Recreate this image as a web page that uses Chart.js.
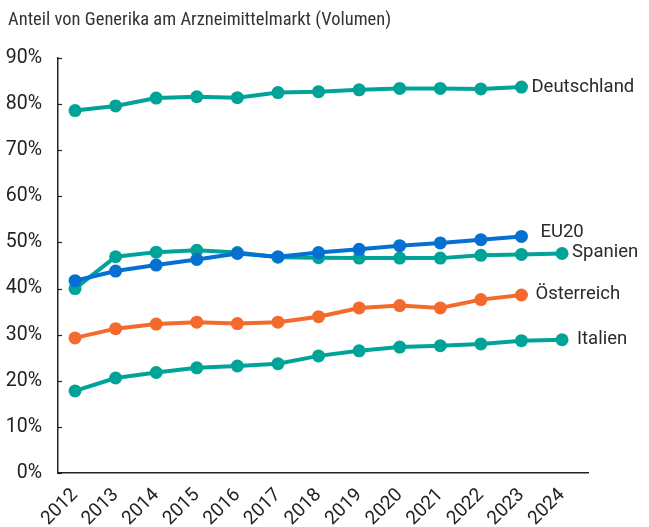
<!DOCTYPE html>
<html lang="de">
<head>
<meta charset="utf-8">
<title>Generika Anteil</title>
<script src="https://cdn.jsdelivr.net/npm/chart.js@4/dist/chart.umd.min.js"></script>
<style>
  html, body { margin: 0; padding: 0; background: #fff; }
  #wrap { width: 649px; height: 527px; position: relative; }
</style>
</head>
<body>
<div id="wrap"><canvas id="generika"></canvas></div>
<script>
// Anteil in % (Volumen), Jahre 2012-2024
const years = [2012, 2013, 2014, 2015, 2016, 2017, 2018, 2019, 2020, 2021, 2022, 2023, 2024];
const deutschland = [78.6, 79.6, 81.3, 81.6, 81.4, 82.5, 82.7, 83.1, 83.4, 83.4, 83.3, 83.7];
const eu20 = [41.7, 43.8, 45.1, 46.3, 47.6, 46.9, 47.8, 48.5, 49.3, 49.9, 50.6, 51.3];
const spanien = [40.0, 46.9, 47.9, 48.3, 47.8, 46.8, 46.7, 46.6, 46.6, 46.6, 47.2, 47.4, 47.6];
const oesterreich = [29.3, 31.3, 32.3, 32.7, 32.4, 32.7, 33.9, 35.8, 36.3, 35.8, 37.6, 38.6];
const italien = [17.8, 20.6, 21.8, 22.8, 23.2, 23.7, 25.4, 26.5, 27.3, 27.6, 28.0, 28.7, 28.9];
const yTicks = [0, 10, 20, 30, 40, 50, 60, 70, 80, 90];

const TEAL = "#00a398";
const BLUE = "#0570d2";
const ORANGE = "#f36a2c";
const FONT = "Roboto";
const TITLE_FONT = "'Liberation Sans Narrow', 'Roboto Condensed', Roboto";

function points(values) {
  return values.map((v, i) => ({ x: years[i], y: v }));
}

function series(name, values, color, dx, dy) {
  return {
    label: name,
    data: points(values),
    borderColor: color,
    backgroundColor: color,
    borderWidth: 4,
    pointRadius: 6.5,
    pointHoverRadius: 6.5,
    pointBorderWidth: 0,
    tension: 0,
    endLabel: { dx: dx, dy: dy },
  };
}

// name next to the last point of each line
const endLabels = {
  id: "endLabels",
  afterDatasetsDraw(chart) {
    const ctx = chart.ctx;
    ctx.save();
    ctx.font = "18.5px " + FONT;
    ctx.fillStyle = "#2a2a2a";
    ctx.textBaseline = "middle";
    ctx.textAlign = "left";
    chart.data.datasets.forEach((ds, i) => {
      const pts = chart.getDatasetMeta(i).data;
      const last = pts[pts.length - 1];
      ctx.fillText(ds.label, last.x + ds.endLabel.dx, last.y + ds.endLabel.dy);
    });
    ctx.restore();
  },
};

// title and the short inward ticks on the y axis
const frame = {
  id: "frame",
  afterDraw(chart) {
    const ctx = chart.ctx;
    const y = chart.scales.y;
    ctx.save();
    ctx.strokeStyle = "#222";
    ctx.lineWidth = 1.2;
    y.ticks.forEach((t) => {
      const py = Math.round(y.getPixelForValue(t.value)) + 0.5;
      ctx.beginPath();
      ctx.moveTo(y.right, py);
      ctx.lineTo(y.right + 4, py);
      ctx.stroke();
    });
    ctx.font = "18.5px " + TITLE_FONT;
    ctx.fillStyle = "#333";
    ctx.textBaseline = "middle";
    ctx.fillText("Anteil von Generika am Arzneimittelmarkt (Volumen)", 8, 20);
    ctx.restore();
  },
};

new Chart(document.getElementById("generika"), {
  type: "line",
  data: {
    datasets: [
      series("EU20", eu20, BLUE, 19, -4),
      series("Deutschland", deutschland, TEAL, 10, 0),
      series("Spanien", spanien, TEAL, 10, -1),
      series("Österreich", oesterreich, ORANGE, 14, -1),
      series("Italien", italien, TEAL, 15, 0),
    ],
  },
  options: {
    responsive: true,
    maintainAspectRatio: false,
    animation: false,
    layout: { padding: { top: 58, right: 61, left: 0, bottom: 0 } },
    plugins: {
      legend: { display: false },
      tooltip: { enabled: false },
    },
    scales: {
      x: {
        type: "linear",
        min: 2011.58,
        max: 2024.64,
        afterBuildTicks: (scale) => {
          scale.ticks = years.map((v) => ({ value: v }));
        },
        afterFit: (scale) => {
          scale.height = 54;
        },
        grid: { display: false },
        border: { display: true, color: "#222", width: 1.5 },
        ticks: {
          minRotation: 45,
          maxRotation: 45,
          padding: 3,
          color: "#222",
          font: { family: FONT, size: 19 },
          callback: (v) => String(v),
        },
      },
      y: {
        min: 0,
        max: 90,
        afterBuildTicks: (scale) => {
          scale.ticks = yTicks.map((v) => ({ value: v }));
        },
        afterFit: (scale) => {
          scale.width = 58;
        },
        grid: { display: false },
        border: { display: true, color: "#222", width: 1.5 },
        ticks: {
          padding: 8,
          color: "#222",
          font: { family: FONT, size: 19.5 },
          callback: (v) => v + "%",
        },
      },
    },
  },
  plugins: [endLabels, frame],
});
</script>
</body>
</html>
